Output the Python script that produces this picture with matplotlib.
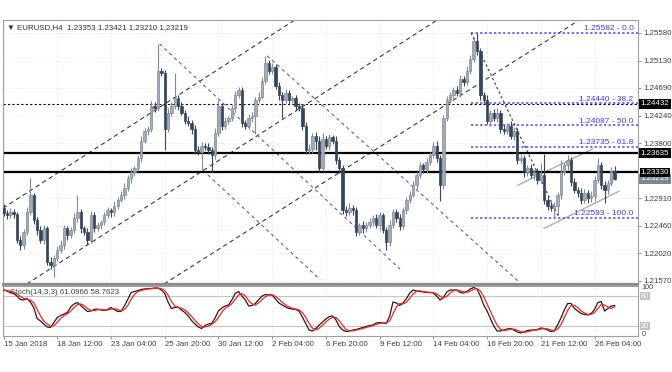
import numpy as np
import matplotlib
matplotlib.use('Agg')
import matplotlib.pyplot as plt
import matplotlib.transforms as mtransforms

plt.rcParams['font.family'] = ['Liberation Sans', 'DejaVu Sans']

# ── EURUSD H4 candles ─────────────────────────────────────────────────────────
first_open = 1.2275
close = [
    1.2267, 1.2263, 1.2268, 1.2265, 1.2223, 1.2215, 1.2236, 1.2268, 1.2296, 1.2255,
    1.2239, 1.2223, 1.2242, 1.2188, 1.2183, 1.2194, 1.2207, 1.2215, 1.2242, 1.2231,
    1.2239, 1.2259, 1.2268, 1.2242, 1.2236, 1.2223, 1.2263, 1.2242, 1.2247, 1.2252,
    1.2263, 1.2271, 1.2268, 1.2279, 1.2288, 1.2296, 1.2307, 1.2323, 1.2333, 1.2339,
    1.2355, 1.2384, 1.2400, 1.2403, 1.2440, 1.2436, 1.2497, 1.2494, 1.2403, 1.2429,
    1.2440, 1.2452, 1.2440, 1.2429, 1.2416, 1.2413, 1.2403, 1.2368, 1.2365, 1.2376,
    1.2374, 1.2368, 1.2360, 1.2397, 1.2440, 1.2408, 1.2416, 1.2420, 1.2436, 1.2457,
    1.2465, 1.2413, 1.2408, 1.2420, 1.2424, 1.2449, 1.2455, 1.2481, 1.2510, 1.2497,
    1.2503, 1.2473, 1.2457, 1.2449, 1.2461, 1.2449, 1.2452, 1.2440, 1.2436, 1.2408,
    1.2368, 1.2371, 1.2392, 1.2384, 1.2339, 1.2387, 1.2376, 1.2389, 1.2384, 1.2352,
    1.2339, 1.2271, 1.2268, 1.2275, 1.2271, 1.2236, 1.2247, 1.2242, 1.2247, 1.2252,
    1.2259, 1.2247, 1.2263, 1.2239, 1.2220, 1.2247, 1.2268, 1.2259, 1.2246, 1.2271,
    1.2288, 1.2296, 1.2312, 1.2328, 1.2344, 1.2338, 1.2349, 1.2360, 1.2376, 1.2355,
    1.2312, 1.2420, 1.2449, 1.2457, 1.2465, 1.2461, 1.2484, 1.2478, 1.2497, 1.2516,
    1.2545, 1.2529, 1.2457, 1.2449, 1.2416, 1.2429, 1.2420, 1.2429, 1.2403, 1.2400,
    1.2408, 1.2392, 1.2400, 1.2352, 1.2355, 1.2333, 1.2339, 1.2328, 1.2333, 1.2320,
    1.2328, 1.2288, 1.2279, 1.2275, 1.2278, 1.2296, 1.2333, 1.2344, 1.2352, 1.2317,
    1.2304, 1.2300, 1.2288, 1.2299, 1.2291, 1.2294, 1.2320, 1.2344, 1.2312, 1.2304,
    1.2315, 1.23353, 1.23219,
]
# wick lengths in pips above / below the body
up_wick = [
    6, 4, 7, 5, 3, 6, 5, 8, 27, 4,
    5, 7, 6, 4, 8, 5, 6, 9, 5, 4,
    6, 8, 28, 5, 4, 6, 7, 5, 6, 4,
    5, 6, 4, 7, 5, 6, 8, 5, 6, 4,
    6, 7, 5, 4, 8, 6, 43, 5, 4, 7,
    6, 42, 5, 6, 4, 7, 5, 6, 8, 5,
    4, 6, 5, 7, 9, 5, 6, 4, 5, 7,
    6, 5, 4, 7, 6, 5, 8, 6, 11, 5,
    7, 4, 6, 5, 7, 5, 4, 6, 5, 7,
    6, 8, 5, 6, 7, 9, 5, 6, 4, 7,
    6, 5, 7, 8, 5, 6, 4, 7, 5, 6,
    5, 7, 6, 4, 5, 8, 6, 5, 7, 6,
    5, 6, 7, 5, 6, 4, 7, 5, 6, 8,
    6, 5, 7, 6, 5, 8, 6, 5, 7, 6,
    7, 13, 5, 6, 8, 5, 6, 7, 5, 6,
    5, 7, 6, 4, 8, 5, 6, 7, 5, 6,
    20, 35, 6, 5, 7, 5, 19, 6, 8, 5,
    6, 5, 7, 6, 5, 8, 6, 11, 5, 6,
    5, 6, 7,
]
lo_wick = [
    5, 6, 4, 7, 5, 8, 6, 5, 4, 6,
    7, 5, 6, 5, 6, 20, 5, 4, 6, 7,
    5, 4, 6, 8, 5, 7, 4, 6, 5, 6,
    4, 5, 7, 6, 5, 4, 6, 5, 7, 6,
    5, 6, 4, 7, 5, 6, 5, 6, 35, 5,
    6, 5, 7, 4, 6, 5, 8, 6, 5, 29,
    6, 5, 27, 6, 5, 7, 6, 5, 4, 6,
    5, 7, 6, 5, 6, 29, 5, 4, 6, 5,
    6, 5, 7, 29, 5, 6, 4, 6, 5, 7,
    6, 5, 7, 16, 6, 5, 6, 7, 5, 6,
    7, 5, 6, 4, 8, 6, 5, 7, 6, 5,
    6, 4, 7, 5, 13, 6, 5, 7, 6, 5,
    6, 5, 4, 6, 5, 7, 6, 5, 4, 6,
    25, 6, 5, 4, 7, 5, 6, 5, 4, 6,
    5, 6, 7, 5, 6, 8, 5, 6, 7, 5,
    6, 5, 7, 6, 5, 8, 6, 5, 7, 6,
    5, 6, 7, 5, 16, 15, 6, 5, 7, 6,
    5, 7, 6, 5, 8, 6, 7, 5, 6, 21,
    6, 5, 1,
]

# ── Stochastic (14,3,3) ───────────────────────────────────────────────────────
stoch_k = [
    92, 90, 87, 85, 80, 73, 72, 75, 68, 57,
    35, 30, 24, 18, 17, 27, 37, 41, 44, 47,
    58, 64, 67, 61, 55, 49, 50, 53, 54, 52,
    51, 53, 57, 53, 49, 49, 60, 73, 87, 89,
    91, 93, 94, 95, 95, 96, 96, 92, 85, 68,
    55, 57, 58, 52, 47, 40, 31, 24, 18, 15,
    21, 24, 25, 36, 50, 56, 60, 62, 72, 85,
    89, 80, 72, 60, 61, 65, 73, 80, 83, 82,
    82, 74, 66, 62, 58, 55, 54, 53, 50, 38,
    25, 12, 10, 15, 22, 28, 34, 39, 40, 32,
    19, 12, 9, 10, 12, 13, 15, 17, 19, 21,
    22, 26, 27, 26, 25, 40, 68, 66, 61, 66,
    75, 86, 92, 90, 89, 88, 87, 87, 86, 80,
    72, 77, 88, 92, 92, 92, 87, 86, 89, 94,
    97, 94, 80, 62, 50, 35, 20, 10, 10, 12,
    14, 15, 12, 8, 6, 8, 11, 12, 12, 13,
    16, 15, 12, 9, 10, 22, 36, 52, 65, 65,
    55, 50, 45, 43, 42, 45, 53, 67, 69, 50,
    55, 60, 61.0966,
]
stoch_d = [
    92, 91, 89.7, 87.3, 84, 79.3, 75, 73.3, 71.7, 66.7,
    53.3, 40.7, 29.7, 24, 19.7, 20.7, 27, 35, 40.7, 44,
    49.7, 56.3, 63, 64, 61, 55, 51.3, 50.7, 52.3, 53,
    52.3, 52, 53.7, 54.3, 53, 50.3, 52.7, 60.7, 73.3, 83,
    89, 91, 92.7, 94, 94.7, 95.3, 95.7, 94.7, 91, 81.7,
    69.3, 60, 56.7, 55.7, 52.3, 46.3, 39.3, 31.7, 24.3, 19,
    18, 20, 23.3, 28.3, 37, 47.3, 55.3, 59.3, 64.7, 73,
    82, 84.7, 80.3, 70.7, 64.3, 62, 66.3, 72.7, 78.7, 81.7,
    82.3, 79.3, 74, 67.3, 62, 58.3, 55.7, 54, 52.3, 47,
    37.7, 25, 15.7, 12.3, 15.7, 21.7, 28, 33.7, 37.7, 37,
    30.3, 21, 13.3, 10.3, 10.3, 11.7, 13.3, 15, 17, 19,
    20.7, 23, 25, 26.3, 26, 30.3, 44.3, 58, 65, 64.3,
    67.3, 75.7, 84.3, 89.3, 90.3, 89, 88, 87.3, 86.7, 84.3,
    79.3, 76.3, 79, 85.7, 90.7, 92, 90.3, 88.3, 87.3, 89.7,
    93.3, 95, 90.3, 78.7, 64, 49, 35, 21.7, 13.3, 10.7,
    12, 13.7, 13.7, 11.7, 8.7, 7.3, 8.3, 10.3, 11.7, 12.3,
    13.7, 14.7, 14.3, 12, 10.3, 13.7, 22.7, 36.7, 51, 60.7,
    61.7, 56.7, 50, 46, 43.3, 43.3, 46.7, 55, 63, 62,
    58, 55, 58.7623,
]

# ── Levels and labels ────────────────────────────────────────────────────────
price_ticks = [1.2157, 1.2202, 1.2246, 1.2291, 1.2380, 1.2424, 1.2469, 1.2513, 1.2558]
price_tick_labels = ['1.21570', '1.22020', '1.22460', '1.22910', '1.23800',
                     '1.24240', '1.24690', '1.25130', '1.25580']
fib_prices = [1.25582, 1.24440, 1.24087, 1.23735, 1.22593]
fib_labels = ['1.25582 - 0.0', '1.24440 - 38.2', '1.24087 - 50.0',
              '1.23735 - 61.8', '1.22593 - 100.0']
time_tick_bars = [0, 16, 32, 48, 64, 80, 96, 112, 128, 144, 160, 176]
time_tick_labels = ['15 Jan 2018', '18 Jan 12:00', '23 Jan 04:00', '25 Jan 20:00',
                    '30 Jan 12:00', '2 Feb 04:00', '6 Feb 20:00', '9 Feb 12:00',
                    '14 Feb 04:00', '16 Feb 20:00', '21 Feb 12:00', '26 Feb 04:00']

close = np.array(close)
x = np.arange(len(close))
open_ = np.r_[first_open, close[:-1]]
high = np.maximum(open_, close) + np.array(up_wick) * 0.0001
low = np.minimum(open_, close) - np.array(lo_wick) * 0.0001

BULL_FC, BULL_EC, BEAR = '#a3acb6', '#7f8a96', '#34445a'
GRID = dict(color='#dcdcdc', lw=0.6, ls=(0, (1, 2)), zorder=0)
FS = 5.7

fig = plt.figure(figsize=(6.72, 3.72), dpi=100)
ax = fig.add_axes([3 / 672, 1 - 284 / 372, 635 / 672, 264 / 372])
axs = fig.add_axes([3 / 672, 1 - 336 / 372, 635 / 672, 50 / 372])
xlim = (-0.15, 188.95)

# ── Main panel ───────────────────────────────────────────────────────────────
ax.set_xlim(*xlim)
ax.set_ylim(1.21521, 1.25789)
for t in time_tick_bars:
    ax.axvline(t, **GRID)
for p in price_ticks + [1.2336]:
    ax.axhline(p, **GRID)

bull = close >= open_
wick_c = np.where(bull, BULL_EC, BEAR)
ax.vlines(x, low, high, colors=wick_c, lw=0.8, zorder=3)
body_h = np.maximum(np.abs(close - open_), 0.00004)
ax.bar(x, body_h, bottom=np.minimum(open_, close), width=0.7,
       color=np.where(bull, BULL_FC, BEAR), edgecolor=wick_c, lw=0.5, zorder=4)

# channel lines (dark dashed)
for p1, p2 in [((1.9, 1.22818), (79.4, 1.25532)),
               ((10.9, 1.21661), (124.0, 1.25609)),
               ((58.5, 1.21890), (165.7, 1.25590))]:
    ax.axline(p1, p2, color='#3a3a3a', lw=0.8, ls=(0, (4, 3)), zorder=2)
# descending channel (blue dashed rays)
for (x0, y0), (x1, y1) in [((46.5, 1.25403), (118.1, 1.21761)),
                           ((59.4, 1.23360), (94.3, 1.21592)),
                           ((78.5, 1.25210), (153.8, 1.21542))]:
    ax.plot([x0, x1], [y0, y1], color='#5c5cc8', lw=0.8, ls=(0, (3, 3)), zorder=2)

# wedge lines
ax.plot([153.1, 175.5], [1.23116, 1.23707], color='#a8a8a8', lw=0.9, zorder=2)
ax.plot([161.0, 183.3], [1.22420, 1.23021], color='#a8a8a8', lw=0.9, zorder=2)

# fibonacci retracement
ax.plot([139.2, 165.4], [1.25582, 1.22593], color='#505050', lw=0.9,
        ls=(0, (2, 2)), zorder=2)
for p, lab in zip(fib_prices, fib_labels):
    ax.plot([139.2, xlim[1]], [p, p], color='#4646ff', lw=1.1, ls=(0, (1.5, 1.5)), zorder=2)
    ax.text(187.6, p + 0.00012, lab, color='#3c3cff', fontsize=6.0,
            ha='right', va='bottom', zorder=5)

# horizontal levels
ax.axhline(1.24432, color='black', lw=0.8, ls=(0, (2, 2)), zorder=2)
ax.axhline(1.23635, color='black', lw=1.6, zorder=2)
ax.axhline(1.23330, color='black', lw=1.6, zorder=2)

ax.yaxis.tick_right()
ax.set_yticks(price_ticks)
ax.set_yticklabels(price_tick_labels)
ax.set_xticks([])
ax.tick_params(axis='y', length=2.5, width=0.6, color='#808080', pad=1.2,
               labelsize=FS, labelcolor='#404040')

trans = mtransforms.blended_transform_factory(ax.transAxes, ax.transData)
for p, lab, fc, pad in [(1.24432, '1.24432', 'black', 0.22), (1.23635, '1.23635', 'black', 0.22),
                        (1.23219, '1.23219', '#7c8894', 0.22), (1.23330, '1.23330', 'black', 0.12)]:
    ax.text(1.0045, p, lab, transform=trans, fontsize=FS, color='white',
            ha='left', va='center', clip_on=False, zorder=10,
            bbox=dict(boxstyle='square,pad=%s' % pad, fc=fc, ec='none'))

ax.text(0.006, 0.972, '\u25bc EURUSD,H4  1.23353 1.23421 1.23210 1.23219',
        transform=ax.transAxes, fontsize=FS, color='#303030', va='center', ha='left',
        family=['Liberation Sans', 'DejaVu Sans'])

for s in ax.spines.values():
    s.set_color('#a0a0a0')
    s.set_linewidth(0.8)
ax.spines['bottom'].set_color('#8a8a8a')
ax.spines['bottom'].set_linewidth(1.6)

# ── Stochastic panel ─────────────────────────────────────────────────────────
axs.set_xlim(*xlim)
axs.set_ylim(0, 100)
for t in time_tick_bars:
    axs.axvline(t, **GRID)
axs.axhline(80, color='#c4c4c4', lw=0.8, zorder=1)
axs.axhline(20, color='#c4c4c4', lw=0.8, zorder=1)
axs.text(0.011, 0.86, 'Stoch(14,3,3) 61.0966 58.7623', transform=axs.transAxes,
         fontsize=FS, color='#404040', va='center', ha='left', zorder=1)
axs.plot(x, stoch_k, color='#1e1e1e', lw=0.9, zorder=3)
axs.plot(x, stoch_d, color='#ff2020', lw=0.9, zorder=4)

axs.set_yticks([])
axs.set_xticks(time_tick_bars)
axs.set_xticklabels(time_tick_labels)
axs.tick_params(axis='x', length=2.5, width=0.6, color='#808080', pad=1.2,
                labelsize=FS, labelcolor='#404040')
for lab in axs.get_xticklabels():
    lab.set_ha('left')

transs = mtransforms.blended_transform_factory(axs.transAxes, axs.transData)
axs.text(1.006, 97, '100', transform=transs, fontsize=5.2, color='#404040',
         ha='left', va='center', clip_on=False)
axs.text(1.006, 3, '0', transform=transs, fontsize=5.2, color='#404040',
         ha='left', va='center', clip_on=False)
for v in [80, 20]:
    axs.text(1.0045, v, str(v), transform=transs, fontsize=5.2, color='white',
             ha='left', va='center', clip_on=False,
             bbox=dict(boxstyle='square,pad=0.12', fc='#c2c2c2', ec='none'))

for s in axs.spines.values():
    s.set_color('#a0a0a0')
    s.set_linewidth(0.8)
axs.spines['top'].set_color('#8a8a8a')
axs.spines['top'].set_linewidth(1.2)

fig.savefig('out.png', dpi=100)
